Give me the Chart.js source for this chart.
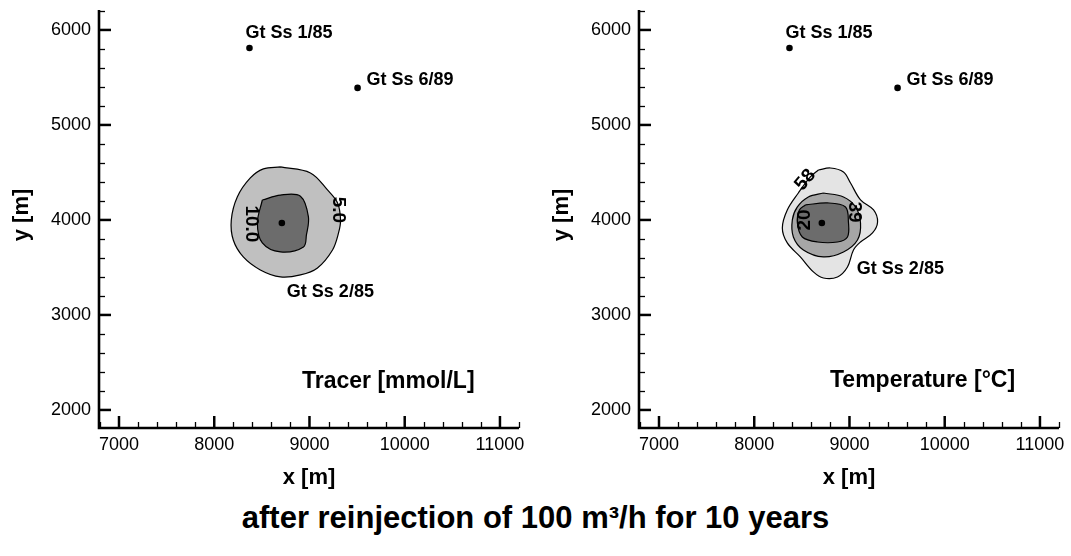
<!DOCTYPE html>
<html><head><meta charset="utf-8">
<script src="https://cdn.jsdelivr.net/npm/chart.js@4.4.0/dist/chart.umd.min.js"></script>
<style>
html,body{margin:0;padding:0;background:#fff;}
#wrap{position:relative;width:1071px;height:556px;overflow:hidden;font-family:"Liberation Sans",Arial,sans-serif;}
#c1{position:absolute;left:0;top:0;}
#c2{position:absolute;left:540px;top:0;}
#title{position:absolute;left:0;width:1071px;top:500px;text-align:center;font-weight:bold;font-size:31px;line-height:36px;color:#000;}
</style></head>
<body>
<div id="wrap">
<canvas id="c1" width="540" height="490"></canvas>
<canvas id="c2" width="531" height="490"></canvas>
<div id="title">after reinjection of 100 m³/h for 10 years</div>
</div>
<script>
// ---- data ----
const xTickValues = [7000, 8000, 9000, 10000, 11000];
const yTickValues = [2000, 3000, 4000, 5000, 6000];
const wellNames = ['Gt Ss 1/85', 'Gt Ss 6/89', 'Gt Ss 2/85'];
const wellX = [8370, 9505, 8710];
const wellY = [5810, 5390, 3968];

// Tracer contours [mmol/L]
const tracerOuterX = [8695, 9010, 9189, 9295, 9326, 9305, 9242, 9084, 8905, 8695, 8484, 8305, 8200, 8179, 8242, 8379, 8516];
const tracerOuterY = [4558, 4495, 4316, 4179, 4000, 3863, 3684, 3495, 3421, 3400, 3474, 3611, 3789, 4000, 4242, 4442, 4537];
const tracerInnerX = [8505, 8695, 8905, 8989, 8968, 8937, 8695, 8505, 8453];
const tracerInnerY = [4210, 4262, 4250, 4032, 3842, 3716, 3663, 3758, 3968];
const tracerLabels = ['5.0', '10.0'];
const tracerLabelX = [9305, 8389];
const tracerLabelY = [4105, 3958];

// Temperature contours [°C]
const tempOuterX = [8674, 8800, 8937, 9011, 9116, 9253, 9295, 9242, 9116, 9042, 8979, 8874, 8726, 8621, 8484, 8347, 8295, 8347, 8463, 8589];
const tempOuterY = [4526, 4547, 4505, 4389, 4211, 4105, 3979, 3863, 3768, 3684, 3505, 3400, 3389, 3453, 3611, 3758, 3916, 4105, 4284, 4453];
const tempMiddleX = [8726, 8937, 9063, 9116, 9084, 8937, 8726, 8516, 8411, 8400, 8453, 8568];
const tempMiddleY = [4284, 4242, 4137, 3968, 3789, 3663, 3611, 3684, 3821, 4000, 4137, 4242];
const tempInnerX = [8537, 8768, 8958, 8989, 8979, 8874, 8663, 8505, 8453, 8474];
const tempInnerY = [4158, 4179, 4137, 3979, 3821, 3768, 3768, 3821, 3968, 4105];
const tempLabels = ['58', '39', '20'];
const tempLabelX = [8537, 9053, 8526];
const tempLabelY = [4421, 4084, 4000];

// ---- styles ----
const FONT = '"Liberation Sans", Arial, sans-serif';
const X_MIN = 6790, X_MAX = 11200, Y_MIN = 1810, Y_MAX = 6210, MINOR = 200;

function closed(xs, ys) {
  const pts = xs.map((x, i) => ({x: x, y: ys[i]}));
  pts.push({x: xs[0], y: ys[0]});
  return pts;
}
function contour(xs, ys, color, order) {
  return {
    type: 'scatter', data: closed(xs, ys), showLine: true, fill: 'shape',
    backgroundColor: color, borderColor: '#000', borderWidth: 1.2,
    pointRadius: 0, tension: 0.35, order: order
  };
}
function wellsDataset() {
  return {
    type: 'scatter', data: wellX.map((x, i) => ({x: x, y: wellY[i]})),
    pointRadius: 3.3, backgroundColor: '#000', borderWidth: 0, order: 0
  };
}

const axesPlugin = {
  id: 'axes',
  afterDraw(chart, args, o) {
    const ctx = chart.ctx, a = chart.chartArea, sx = chart.scales.x, sy = chart.scales.y;
    ctx.save();
    ctx.strokeStyle = '#000';
    ctx.lineCap = 'butt';
    // minor ticks
    ctx.lineWidth = 1.3;
    for (let v = Math.ceil(sx.min / MINOR) * MINOR; v <= sx.max; v += MINOR) {
      if (v % 1000 === 0) continue;
      const p = Math.round(sx.getPixelForValue(v)) + 0.5;
      ctx.beginPath(); ctx.moveTo(p, a.bottom); ctx.lineTo(p, a.bottom - 6); ctx.stroke();
    }
    for (let v = Math.ceil(sy.min / MINOR) * MINOR; v <= sy.max; v += MINOR) {
      if (v % 1000 === 0) continue;
      const p = Math.round(sy.getPixelForValue(v)) + 0.5;
      ctx.beginPath(); ctx.moveTo(a.left, p); ctx.lineTo(a.left + 6, p); ctx.stroke();
    }
    // major ticks
    ctx.lineWidth = 2.5;
    xTickValues.forEach(v => {
      const p = sx.getPixelForValue(v);
      ctx.beginPath(); ctx.moveTo(p, a.bottom); ctx.lineTo(p, a.bottom - 12); ctx.stroke();
    });
    yTickValues.forEach(v => {
      const p = sy.getPixelForValue(v);
      ctx.beginPath(); ctx.moveTo(a.left, p); ctx.lineTo(a.left + 12, p); ctx.stroke();
    });
    // axis lines
    ctx.lineWidth = 2.6;
    ctx.beginPath();
    ctx.moveTo(a.left, a.top); ctx.lineTo(a.left, a.bottom); ctx.lineTo(a.right, a.bottom);
    ctx.stroke();
    // axis titles
    ctx.fillStyle = '#000';
    ctx.font = 'bold 22px ' + FONT;
    ctx.textAlign = 'center'; ctx.textBaseline = 'middle';
    ctx.fillText('x [m]', (a.left + a.right) / 2, a.bottom + 50);
    ctx.save();
    ctx.translate(22, (a.top + a.bottom) / 2 - 4);
    ctx.rotate(-Math.PI / 2);
    ctx.fillText('y [m]', 0, 0);
    ctx.restore();
    // panel title
    ctx.font = 'bold 23px ' + FONT;
    ctx.textAlign = 'left'; ctx.textBaseline = 'alphabetic';
    ctx.fillText(o.panelTitle, o.panelTitleX, o.panelTitleY);
    // well labels
    ctx.font = 'bold 18px ' + FONT;
    wellNames.forEach((n, i) => {
      const off = o.wellLabelOffsets[i];
      ctx.fillText(n, sx.getPixelForValue(wellX[i]) + off[0], sy.getPixelForValue(wellY[i]) + off[1]);
    });
    // contour labels
    ctx.font = 'bold 19px ' + FONT;
    ctx.textAlign = 'center'; ctx.textBaseline = 'middle';
    o.labels.forEach((t, i) => {
      ctx.save();
      ctx.translate(sx.getPixelForValue(o.labelX[i]), sy.getPixelForValue(o.labelY[i]));
      ctx.rotate(o.labelAngles[i] * Math.PI / 180);
      ctx.fillText(t, 0, 0);
      ctx.restore();
    });
    ctx.restore();
  }
};

function makeChart(id, datasets, rightPad, axesOpts) {
  return new Chart(document.getElementById(id), {
    type: 'scatter',
    data: {datasets: datasets},
    plugins: [axesPlugin],
    options: {
      responsive: false, animation: false, events: [],
      layout: {padding: {left: 0, right: rightPad, top: 10, bottom: 0}},
      plugins: {legend: {display: false}, tooltip: {enabled: false}, axes: axesOpts},
      scales: {
        x: {
          type: 'linear', min: X_MIN, max: X_MAX,
          afterBuildTicks: s => { s.ticks = xTickValues.map(v => ({value: v})); },
          afterFit: s => { s.height = 62; s.paddingLeft = 0; s.paddingRight = 0; },
          grid: {display: false, drawTicks: false}, border: {display: false},
          ticks: {color: '#000', font: {size: 18, family: FONT}, padding: 6, maxRotation: 0, autoSkip: false,
                  callback: v => String(v)}
        },
        y: {
          type: 'linear', min: Y_MIN, max: Y_MAX,
          afterBuildTicks: s => { s.ticks = yTickValues.map(v => ({value: v})); },
          afterFit: s => { s.width = 99; s.paddingTop = 0; s.paddingBottom = 0; },
          grid: {display: false, drawTicks: false}, border: {display: false},
          ticks: {color: '#000', font: {size: 18, family: FONT}, padding: 8, autoSkip: false,
                  callback: v => String(v)}
        }
      }
    }
  });
}

makeChart('c1', [
  contour(tracerOuterX, tracerOuterY, '#c0c0c0', 5),
  contour(tracerInnerX, tracerInnerY, '#6c6c6c', 3),
  wellsDataset()
], 21, {
  panelTitle: 'Tracer [mmol/L]', panelTitleX: 302, panelTitleY: 388,
  wellLabelOffsets: [[-4, -10], [9, -3], [5, 74]],
  labels: tracerLabels, labelX: tracerLabelX, labelY: tracerLabelY, labelAngles: [90, 90]
});

makeChart('c2', [
  contour(tempOuterX, tempOuterY, '#e4e4e4', 5),
  contour(tempMiddleX, tempMiddleY, '#a6a6a6', 4),
  contour(tempInnerX, tempInnerY, '#6c6c6c', 3),
  wellsDataset()
], 12, {
  panelTitle: 'Temperature [°C]', panelTitleX: 290, panelTitleY: 387,
  wellLabelOffsets: [[-4, -10], [9, -3], [35, 51]],
  labels: tempLabels, labelX: tempLabelX, labelY: tempLabelY, labelAngles: [-50, 90, -90]
});
</script>
</body></html>
